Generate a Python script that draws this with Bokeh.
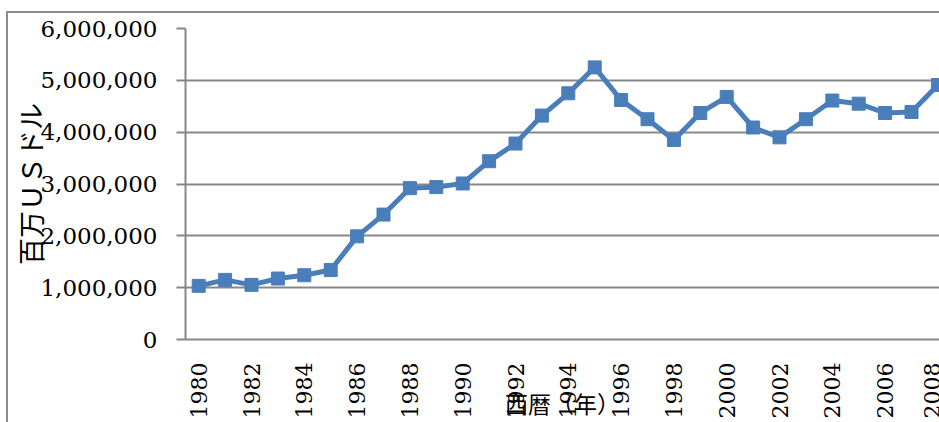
import math
from bokeh.plotting import figure
from bokeh.models import Range1d, FixedTicker, NumeralTickFormatter, ColumnDataSource
from bokeh.embed import file_html
from bokeh.resources import INLINE

# 名目GDP（百万USドル）
years = list(range(1980, 2009))
gdp = [1035000, 1150000, 1054000, 1176000, 1240000, 1340000, 1990000, 2410000,
       2920000, 2940000, 3010000, 3440000, 3780000, 4320000, 4750000, 5250000,
       4620000, 4250000, 3850000, 4370000, 4680000, 4090000, 3900000, 4250000,
       4610000, 4550000, 4370000, 4390000, 4910000]
year_ticks = list(range(1980, 2009, 2))
y_ticks = [0, 1000000, 2000000, 3000000, 4000000, 5000000, 6000000]

x_title = "西暦（年）"
y_title = "百万ＵＳドル"

LINE_BLUE = "#4a7ebb"
GRID_GRAY = "#878787"
SERIF = "DejaVu Serif"
CJK = "Noto Sans CJK JP"

source = ColumnDataSource(data=dict(year=years, gdp=gdp))

p = figure(frame_width=754, frame_height=311, output_backend="svg",
           toolbar_location=None,
           x_range=Range1d(1979.5, 2008.06), y_range=Range1d(0, 6000000),
           min_border_left=177, min_border_right=0, min_border_top=15,
           min_border_bottom=60)
p.outline_line_color = None
p.background_fill_color = "white"
p.border_fill_color = "white"
# chart area border (left and top edges of the chart box)
p.styles = {"margin-left": "6px", "margin-top": "11px",
            "border-left": "2px solid #8c8c8c", "border-top": "2px solid #8c8c8c"}

p.line("year", "gdp", source=source, line_color=LINE_BLUE, line_width=5)
p.scatter("year", "gdp", source=source, marker="square", size=13,
          fill_color=LINE_BLUE, line_color=LINE_BLUE)

# y axis
yax = p.yaxis[0]
yax.ticker = FixedTicker(ticks=y_ticks)
yax.formatter = NumeralTickFormatter(format="0,0")
yax.minor_tick_line_color = None
yax.major_tick_in = 0
yax.major_tick_out = 9
yax.major_tick_line_color = GRID_GRAY
yax.major_tick_line_width = 2
yax.axis_line_color = GRID_GRAY
yax.axis_line_width = 2
yax.major_label_text_font = SERIF
yax.major_label_text_font_size = "23px"
yax.major_label_text_color = "black"
yax.major_label_standoff = 19
yax.axis_label = y_title
yax.axis_label_text_font = CJK
yax.axis_label_text_font_size = "27px"
yax.axis_label_text_font_style = "normal"
yax.axis_label_text_color = "black"
yax.axis_label_standoff = -13

# x axis
xax = p.xaxis[0]
xax.ticker = FixedTicker(ticks=year_ticks)
xax.minor_tick_line_color = None
xax.major_tick_in = 0
xax.major_tick_out = 0
xax.axis_line_color = GRID_GRAY
xax.axis_line_width = 2
xax.major_label_orientation = math.pi / 2
xax.major_label_text_font = SERIF
xax.major_label_text_font_size = "22px"
xax.major_label_text_color = "black"
xax.major_label_standoff = 23
xax.axis_label = x_title
xax.axis_label_text_font = CJK
xax.axis_label_text_font_size = "23px"
xax.axis_label_text_font_style = "normal"
xax.axis_label_text_color = "black"
xax.axis_label_standoff = -35

p.xgrid.grid_line_color = None
p.ygrid.ticker = FixedTicker(ticks=y_ticks)
p.ygrid.grid_line_color = GRID_GRAY
p.ygrid.grid_line_width = 2

open("out.html", "w").write(file_html(p, INLINE))
